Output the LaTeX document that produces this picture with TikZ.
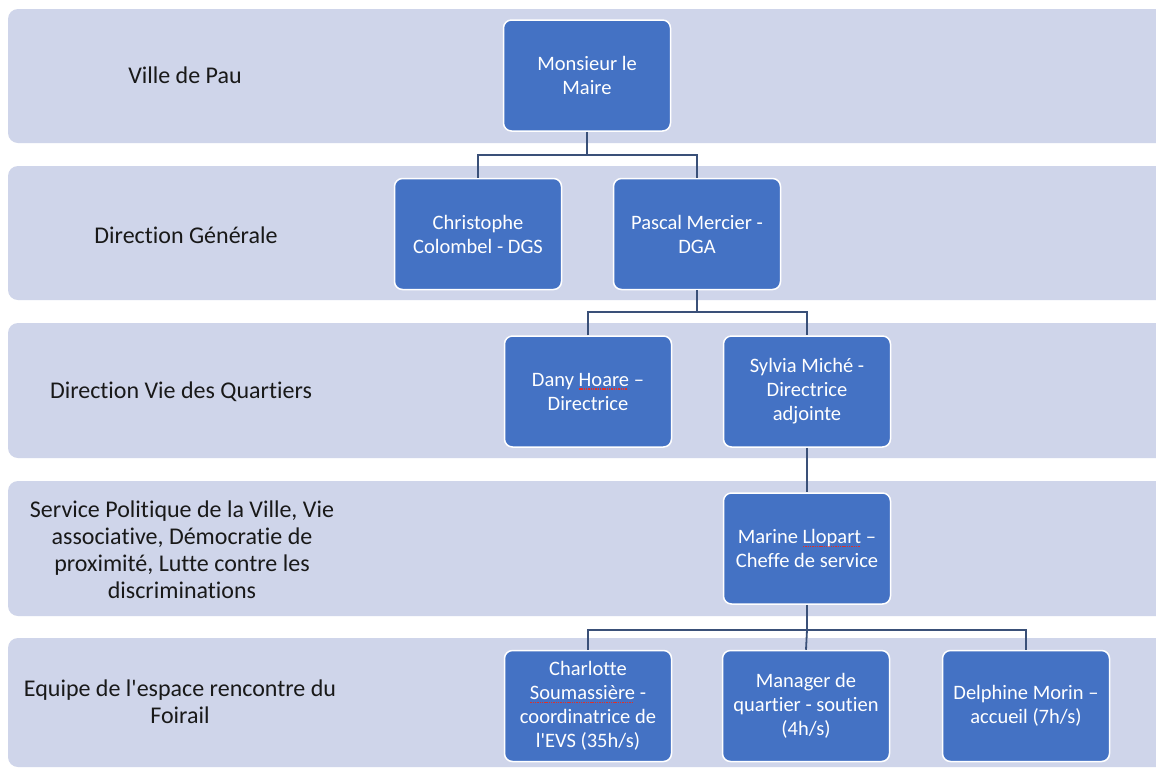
\documentclass[tikz,border=0pt]{standalone}
\usepackage{fontspec}
\setmainfont{Carlito}[Ligatures={TeX,NoCommon}]
\usetikzlibrary{calc}
\definecolor{bandfill}{HTML}{CFD5EA}
\definecolor{boxfill}{HTML}{4472C4}
\definecolor{linkcol}{HTML}{3A5078}
\definecolor{spellred}{HTML}{E0302A}
% red dotted mark under the words flagged by the spell checker
\newsavebox\spellbox
\newcommand\spellmark[1]{\sbox\spellbox{#1}\rlap{\lower3.5pt\hbox to\wd\spellbox{\color{spellred}\leaders\hbox to2.3pt{\hss\rule{1.4pt}{1.3pt}\hss}\hfill}}\usebox\spellbox}
\tikzset{
	band/.style={fill=bandfill, draw=none, rounded corners=10pt},
	level/.style={font=\fontsize{24}{27}\selectfont, text=black!90, align=center},
	person/.style={fill=boxfill, draw=white, line width=1.5pt, rounded corners=8pt,
		minimum width=167pt, minimum height=111pt, inner sep=2pt,
		text=white, align=center, font=\fontsize{20.5}{24}\selectfont},
	link/.style={draw=linkcol, line width=1.8pt}
}

\begin{document}
\begin{tikzpicture}[x=1pt, y=-1pt]
			%%%%% START %%%%%
			
			\useasboundingbox (0, 0) rectangle (1156, 769);
			\clip (0, 0) rectangle (1156, 769);
			\fill[white] (0, 0) rectangle (1156, 769);
			
			% bands of the five levels
			\draw[band] (8, 9) rectangle (1175, 143);
			\draw[band] (8, 166) rectangle (1175, 300);
			\draw[band] (8, 323) rectangle (1175, 458);
			\draw[band] (8, 481) rectangle (1175, 616);
			\draw[band] (8, 638) rectangle (1175, 767);
			
			\node[level] (lvlpau) at (185, 75) {Ville de Pau};
			\node[level] (lvldg) at (186, 235) {Direction Générale};
			\node[level] (lvldvq) at (181, 392) {Direction Vie des Quartiers};
			\node[level] (lvlserv) at (182, 550) {Service Politique de la Ville, Vie\\associative, Démocratie de\\proximité, Lutte contre les\\discriminations};
			\node[level] (lvlequipe) at (180, 702) {Equipe de l\textquotesingle espace rencontre du\\Foirail};
			
			% people
			\node[person] (maire) at (587, 75.5) {Monsieur le\\Maire};
			
			\node[person] (dgs) at (478, 234) {Christophe\\Colombel - DGS};
			\node[person] (dga) at (697, 234) {Pascal Mercier -\\DGA};
			
			\node[person] (dir) at (588, 391.5) {Dany \spellmark{Hoare} --\\Directrice};
			\node[person] (diradj) at (807, 391.5) {Sylvia Miché -\\Directrice\\adjointe};
			
			\node[person] (chef) at (807, 548.5) {Marine \spellmark{Llopart} --\\Cheffe de service};
			
			\node[person] (coord) at (588, 706) {Charlotte\\\spellmark{Soumassière} -\\coordinatrice de\\l\textquotesingle EVS (35h/s)};
			\node[person] (manager) at (806, 706) {Manager de\\quartier - soutien\\(4h/s)};
			\node[person] (accueil) at (1026, 706) {Delphine Morin --\\accueil (7h/s)};
			
			% connectors
			\coordinate (bus1) at (587, 155);
			\coordinate (bus2) at (697, 312);
			\coordinate (bus3) at (807, 630);
			
			\draw[link] (maire.south) -- (bus1);
			\draw[link] (dgs.north) |- (bus1) -| (dga.north);
			
			\draw[link] (dga.south) -- (bus2);
			\draw[link] (dir.north) |- (bus2) -| (diradj.north);
			
			\draw[link] (diradj.south) -- (chef.north);
			
			\draw[link] (chef.south) -- (bus3);
			\draw[link] (coord.north) |- (bus3) -| (accueil.north);
			\draw[link] (bus3) -- (manager.north);
			
			%%%%% END %%%%%
		\end{tikzpicture}
\end{document}
